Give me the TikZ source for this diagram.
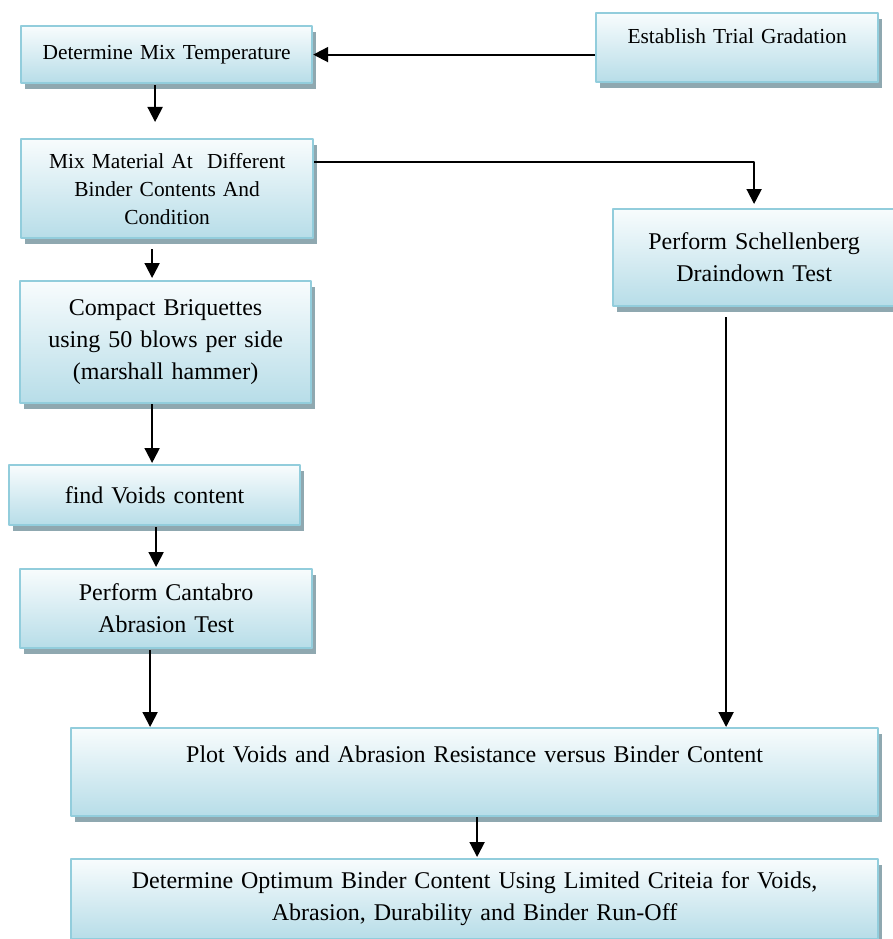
\documentclass[tikz,border=0pt]{standalone}
\usepackage{fontspec}
\setmainfont{Liberation Serif}
\usetikzlibrary{calc, positioning}
\usetikzlibrary{arrows.meta}
\usetikzlibrary{shadows}

\definecolor{boxedge}{RGB}{146,205,220}
\definecolor{boxtop}{RGB}{248,252,253}
\definecolor{boxbottom}{RGB}{183,221,232}
\definecolor{boxshade}{RGB}{143,168,176}

\tikzset{
  stage/.style={draw=boxedge, line width=2.2pt, top color=boxtop, bottom color=boxbottom,
    align=center, inner sep=0pt, anchor=north west,
    font=\fontsize{24}{32}\selectfont,
    drop shadow={shadow xshift=4pt, shadow yshift=-6pt, fill=boxshade, opacity=1}},
  smalltext/.style={font=\fontsize{21.4}{28}\selectfont},
  flow/.style={-{Triangle[length=15pt,width=15pt]}, line width=2pt},
}

\begin{document}
\begin{tikzpicture}[x=1pt, y=-1pt, line join=round]
\useasboundingbox (0,0) rectangle (892,939);

% boxes
\node[stage, smalltext, text width=291pt, minimum height=57pt] (temp) at (20,25)
    {Determine Mix Temperature};
\node[stage, smalltext, text width=282pt, text height=30pt, text depth=39pt] (grad) at (595,12)
    {Establish Trial Gradation};
\node[stage, smalltext, text width=292pt, minimum height=99pt] (mix) at (20,138)
    {Mix Material At\ \ Different\\ Binder Contents And\\ Condition};
\node[stage, text width=291pt, minimum height=122pt] (compact) at (19,280)
    {Compact Briquettes\\ using 50 blows per side\\ (marshall hammer)};
\node[stage, text width=282pt, minimum height=97pt] (schell) at (612,208)
    {Perform Schellenberg\\ Draindown Test};
\node[stage, text width=291pt, minimum height=60pt] (voids) at (8,464)
    {find Voids content};
\node[stage, text width=292pt, minimum height=79pt] (cantabro) at (19,568)
    {Perform Cantabro\\ Abrasion Test};
\node[stage, text width=807pt, text height=34pt, text depth=54pt] (plot) at (70,727)
    {Plot Voids and Abrasion Resistance versus Binder Content};
\node[stage, text width=807pt, minimum height=80pt] (optimum) at (70,858)
    {Determine Optimum Binder Content Using Limited Criteia for Voids,\\
     Abrasion, Durability and Binder Run-Off};

% connectors
\draw[flow] (grad.west |- temp.east) -- (temp.east);
\draw[flow, shorten >=16pt] ($(temp.south)+(-11.5,1)$) coordinate (t1) -- (t1 |- mix.north);
\draw[flow, shorten >=2pt] ($(mix.south)+(-15,10)$) coordinate (m1) -- (m1 |- compact.north);
\draw[flow, shorten >=4pt] ($(mix.east)+(0,-26.5)$) -| (schell.north);
\draw[flow, shorten >=1pt] ($(compact.south)+(-13.5,0)$) coordinate (c1) -- (c1 |- voids.north);
\draw[flow, shorten >=1pt] ($(voids.south)+(1.5,1)$) coordinate (v1) -- (v1 |- cantabro.north);
\draw[flow] ($(cantabro.south)+(-16,1)$) coordinate (a1) -- (a1 |- plot.north);
\draw[flow] ($(schell.south)+(-28,10)$) coordinate (s1) -- (s1 |- plot.north);
\draw[flow, shorten >=1pt] ($(plot.south)+(2.5,0)$) coordinate (p1) -- (p1 |- optimum.north);
\end{tikzpicture}
\end{document}
